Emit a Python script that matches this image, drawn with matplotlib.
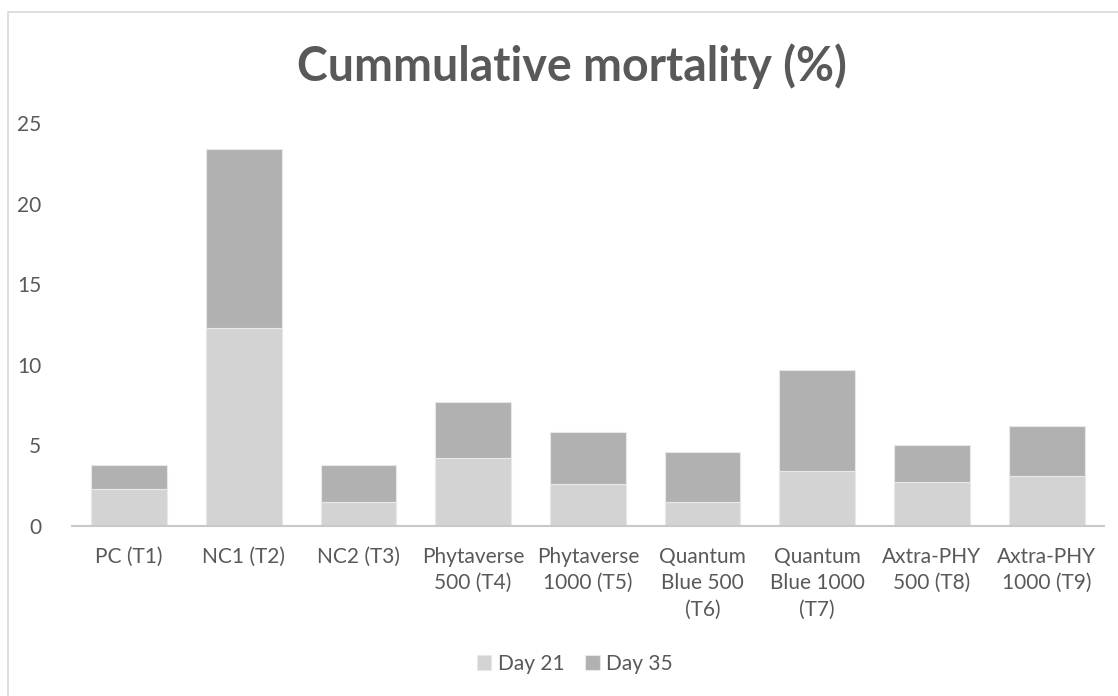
import matplotlib
matplotlib.use("Agg")
import matplotlib.pyplot as plt
from matplotlib.patches import Rectangle

plt.rcParams['font.family'] = ['Lato', 'DejaVu Sans']

categories = ["PC (T1)", "NC1 (T2)", "NC2 (T3)", "Phytaverse\n500 (T4)",
              "Phytaverse\n1000 (T5)", "Quantum\nBlue 500\n(T6)",
              "Quantum\nBlue 1000\n(T7)", "Axtra-PHY\n500 (T8)", "Axtra-PHY\n1000 (T9)"]
day21 = [2.3, 12.3, 1.5, 4.2, 2.6, 1.5, 3.4, 2.7, 3.1]
day35 = [1.5, 11.1, 2.3, 3.5, 3.2, 3.1, 6.3, 2.3, 3.1]
series_names = ["Day 21", "Day 35"]
yticks = [0, 5, 10, 15, 20, 25]

text_col = "#595959"
c21 = "#d3d3d3"
c35 = "#b1b1b1"

fig = plt.figure(figsize=(11.18, 6.96), dpi=100)
ax = fig.add_axes([0.0641, 0.2443, 0.9234, 0.579])

x = range(len(categories))
ax.bar(x, day21, width=0.66, color=c21, edgecolor="#e8e8e8", linewidth=0.8,
       label=series_names[0])
ax.bar(x, day35, width=0.66, bottom=day21, color=c35, edgecolor="#e8e8e8",
       linewidth=0.8, label=series_names[1])

ax.set_xlim(-0.5, len(categories) - 0.5)
ax.set_ylim(0, 25)
ax.set_yticks(yticks)
ax.set_xticks(list(x))
ax.set_xticklabels(categories, linespacing=1.4)

for s in ["top", "right", "left"]:
    ax.spines[s].set_visible(False)
ax.spines["bottom"].set_color("#c8c8c8")
ax.spines["bottom"].set_linewidth(1.5)
ax.tick_params(axis="both", length=0, labelsize=15, colors=text_col)
ax.tick_params(axis="y", pad=22)
ax.tick_params(axis="x", pad=15)

fig.text(0.512, 0.905, "Cummulative mortality (%)", ha="center", va="center",
         fontsize=33.5, fontweight="bold", color=text_col)

fig.legend(loc="center", bbox_to_anchor=(0.514, 0.046), ncol=2, frameon=False,
           fontsize=15, handlelength=0.7, handleheight=0.7, handletextpad=0.3,
           columnspacing=1.0, labelcolor=text_col)

fig.patches.append(Rectangle((0.007, -0.01), 1.0, 0.993, transform=fig.transFigure,
                             fill=False, edgecolor="#d9d9d9", linewidth=1.2))

fig.savefig("out.png", dpi=100)
